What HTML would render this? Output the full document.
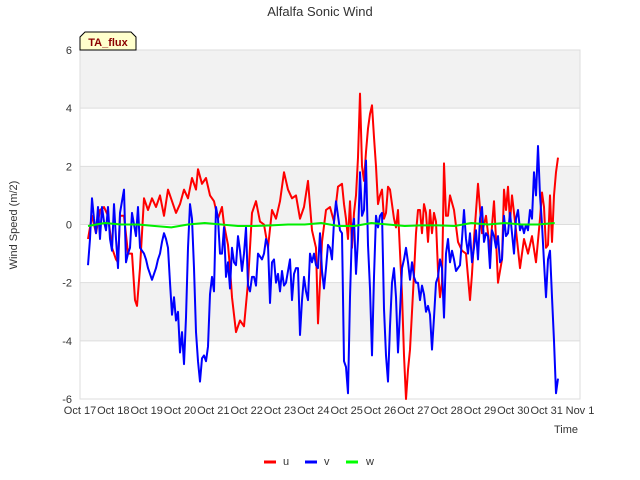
<!DOCTYPE html>
<html><head><meta charset="utf-8"><style>
body{margin:0;background:#fff;}
svg{display:block;font-family:"Liberation Sans","DejaVu Sans",sans-serif;}
</style></head><body>
<svg id="chart" width="640" height="480" viewBox="0 0 640 480">
<text x="320" y="16" text-anchor="middle" font-size="13" fill="#333">Alfalfa Sonic Wind</text>
<g id="bands"></g>
<g id="grid"></g>
<g id="series"></g>
<g id="yticks"></g>
<g id="xticks"></g>
<text transform="translate(17,225) rotate(-90)" text-anchor="middle" font-size="11" fill="#333">Wind Speed (m/2)</text>
<text x="566" y="433" text-anchor="middle" font-size="11" fill="#333">Time</text>
<g>
<path d="M80,50 L80,37 L85,32 L131,32 L136,37 L136,50 Z" fill="#ffffcc" stroke="#000" stroke-width="1"/>
<text x="108" y="46" text-anchor="middle" font-size="11" font-weight="bold" fill="#8b0000">TA_flux</text>
</g>
<g>
<g><line x1="264" y1="462" x2="276" y2="462" stroke="#f00" stroke-width="3"/><text x="283" y="465" font-size="11" fill="#333">u</text></g>
<g><line x1="305" y1="462" x2="317" y2="462" stroke="#00f" stroke-width="3"/><text x="324" y="465" font-size="11" fill="#333">v</text></g>
<g><line x1="346" y1="462" x2="358" y2="462" stroke="#0f0" stroke-width="3"/><text x="366" y="465" font-size="11" fill="#333">w</text></g>
</g>
</svg>
<script>
const xTickLabels=["Oct 17","Oct 18","Oct 19","Oct 20","Oct 21","Oct 22","Oct 23","Oct 24","Oct 25","Oct 26","Oct 27","Oct 28","Oct 29","Oct 30","Oct 31","Nov 1"];
const yTickValues=[-6,-4,-2,0,2,4,6];
const uDays=[.24,.36,.48,.6,.72,.84,.96,1.08,1.14,1.2,1.32,1.44,1.56,1.65,1.71,1.8,1.92,2.04,2.16,2.28,2.4,2.52,2.64,2.76,2.88,3.0,3.12,3.24,3.36,3.48,3.54,3.66,3.78,3.9,4.02,4.14,4.26,4.32,4.44,4.5,4.56,4.68,4.8,4.92,5.04,5.16,5.28,5.4,5.52,5.64,5.76,5.88,6.0,6.12,6.24,6.36,6.48,6.6,6.72,6.84,6.96,7.08,7.14,7.26,7.38,7.5,7.62,7.74,7.86,7.92,7.98,8.04,8.1,8.16,8.22,8.28,8.34,8.4,8.46,8.52,8.58,8.64,8.7,8.76,8.82,8.88,8.94,9.0,9.06,9.12,9.18,9.24,9.3,9.42,9.48,9.54,9.66,9.72,9.78,9.84,9.9,9.96,10.02,10.08,10.14,10.2,10.26,10.32,10.38,10.44,10.5,10.56,10.62,10.68,10.74,10.8,10.86,10.92,10.98,11.04,11.1,11.22,11.34,11.46,11.58,11.7,11.76,11.82,11.94,12.06,12.18,12.3,12.42,12.48,12.54,12.6,12.66,12.72,12.78,12.84,12.9,12.96,13.08,13.2,13.32,13.44,13.56,13.68,13.8,13.86,13.92,13.98,14.04,14.1,14.16,14.22,14.28,14.34];
const uValues=[-0.5,0.3,-0.3,0.5,0.6,0.3,-0.8,-1.2,-1.3,0.3,0.3,-1.0,-1.0,-2.6,-2.8,-1.5,0.9,0.5,0.9,0.6,1.0,0.3,1.2,0.8,0.4,0.7,1.2,0.9,1.6,1.2,1.9,1.4,1.6,1.0,0.8,0.2,0.6,0.0,-0.7,-1.5,-2.5,-3.7,-3.3,-3.5,-2.0,0.4,0.8,0.1,0.0,-0.8,0.5,0.2,0.8,1.8,1.2,0.9,1.0,0.2,0.6,1.5,-0.2,-0.8,-3.4,-0.6,0.5,0.6,0.1,1.3,1.4,0.7,0.2,-0.5,0.8,-0.8,0.4,1.0,2.3,4.5,2.0,1.5,2.5,3.3,3.8,4.1,3.0,2.0,0.7,1.0,1.2,0.2,0.4,1.3,1.2,0.2,-0.1,0.5,-2.4,-4.5,-6.0,-5.0,-4.3,-3.0,-1.7,-0.3,0.5,0.5,-0.3,0.7,0.4,-0.6,0.5,-0.3,0.4,0.1,-1.6,-2.5,-2.0,2.1,0.3,0.3,1.0,0.5,-0.6,-0.9,-1.0,-2.6,-1.7,-0.5,1.4,-0.3,0.3,-0.9,0.8,-0.5,-2.0,-1.6,-1.2,1.2,0.5,1.3,0.1,1.0,-0.2,-1.5,-0.5,-1.0,-0.4,-1.3,0.2,1.1,0.6,-0.8,-0.7,1.0,-0.6,1.0,1.8,2.3];
const vStartDay=0.24;
const vStepDay=0.06;
const vValues=[-1.4,-0.5,0.9,0.2,-0.3,0.6,-0.5,0.6,0.1,-0.2,0.6,-0.5,-0.9,0.7,-0.5,-1.5,0.4,0.8,1.2,-1.3,-1.0,-0.8,0.4,0.0,-0.4,0.6,-0.8,-0.9,-1.0,-1.2,-1.5,-1.7,-1.9,-1.7,-1.5,-1.2,-1.0,-0.6,-0.3,-0.5,-0.8,
-2.0,-3.1,-2.5,-3.3,-3.0,-4.4,-3.7,-4.8,-3.2,-0.8,0.7,0.2,-1.5,-3.7,-4.7,-5.4,-4.6,-4.5,-4.7,-4.2,-2.4,-1.8,-2.3,0.6,0.2,-1.0,-1.0,-0.1,-1.8,-1.3,-2.2,-0.8,-1.3,-1.4,-0.4,-0.9,-1.6,-1.0,-0.1,-2.1,-2.3,-1.8,-1.8,-2.1,-1.0,-1.1,-1.2,-1.0,-0.5,-0.7,-2.7,-1.3,-1.2,-2.0,-1.7,-2.3,-1.6,-2.1,-2.0,-1.6,-1.2,-2.6,-1.7,-1.5,-1.5,-3.8,-2.6,-1.8,-2.3,-2.6,-1.0,-1.3,-1.0,-1.4,-1.5,-0.3,-1.6,-2.2,-1.5,-0.7,-0.8,-1.2,0.1,0.8,0.3,-0.2,-0.3,-4.7,-4.9,-5.8,-2.5,-0.2,0.2,-1.7,-0.5,1.8,0.3,0.5,2.2,-0.7,-2.2,-4.5,-1.8,0.3,-0.1,0.3,0.4,-2.9,-4.5,-5.4,-3.5,-2.0,-1.5,-2.5,-4.4,-3.0,-1.5,-1.2,-0.8,-1.3,-1.9,-1.3,-1.8,-2.0,-2.0,-2.6,-2.1,-2.4,-3.0,-2.8,-3.1,-4.3,-3.2,-2.0,-1.8,-1.2,-1.5,-3.2,-1.0,-0.5,-1.3,-0.9,-1.2,-1.6,-1.5,-1.4,-0.5,0.5,-0.5,-1.0,-0.3,-1.3,-0.8,-0.2,-1.2,0.2,0.6,-0.6,-0.3,-0.4,-1.5,-0.2,-0.4,-0.8,-0.4,-1.3,-1.2,0.3,-0.4,-0.3,0.4,-0.3,-1.0,0.2,0.5,-0.2,0.0,-0.3,0.0,-0.2,0.5,0.2,1.8,1.0,2.7,1.0,0.0,-1.3,-2.5,-1.2,-0.9,-2.5,-4.0,-5.8,-5.3];
const wStartDay=0.24;
const wStepDay=0.5;
const wValues=[-0.05,0.05,0.0,0.0,-0.05,-0.1,0.0,0.05,0.0,-0.05,-0.05,-0.03,0.0,0.0,0.05,-0.05,-0.05,0.05,0.0,-0.05,-0.03,-0.03,-0.05,0.05,0.0,0.05,0.0,0.0,0.05];

const NS="http://www.w3.org/2000/svg";
const X0=80,X1=580,Y0=50,Y1=399,DAYS=15,YMIN=-6,YMAX=6;
function xs(d){return X0+(X1-X0)*d/DAYS;}
function ys(v){return Y1-(Y1-Y0)*(v-YMIN)/(YMAX-YMIN);}
function mk(tag,attrs,parent){const e=document.createElementNS(NS,tag);for(const k in attrs)e.setAttribute(k,attrs[k]);parent.appendChild(e);return e;}

const bands=document.getElementById('bands');
for(let i=0;i<yTickValues.length-1;i++){
  const lo=yTickValues[i],hi=yTickValues[i+1];
  const r=mk('rect',{x:X0,y:ys(hi),width:X1-X0,height:ys(lo)-ys(hi),fill:(i%2===1)?'#f2f2f2':'#ffffff'},bands);
  
  
}
const grid=document.getElementById('grid');
yTickValues.forEach(v=>{
  const l=mk('line',{x1:X0,x2:X1,y1:ys(v),y2:ys(v),stroke:'#dddddd','stroke-width':1},grid);
  
  
});
const frame=mk('rect',{x:X0,y:Y0,width:X1-X0,height:Y1-Y0,fill:'none',stroke:'#dddddd'},grid);



const yt=document.getElementById('yticks');
yTickValues.forEach(v=>{
  const t=mk('text',{x:72,y:ys(v)+4,'text-anchor':'end','font-size':11,fill:'#333'},yt);
  t.textContent=String(v);
  
  
});
const xt=document.getElementById('xticks');
xTickLabels.forEach((s,i)=>{
  const t=mk('text',{x:xs(i),y:414,'text-anchor':'middle','font-size':11,fill:'#333'},xt);
  t.textContent=s;
  
  
});

const sg=document.getElementById('series');
function line(days,vals,color,name){
  const pts=vals.map((v,i)=>xs(days[i]).toFixed(1)+','+ys(v).toFixed(1)).join(' ');
  const p=mk('polyline',{points:pts,fill:'none',stroke:color,'stroke-width':2,'stroke-linejoin':'round'},sg);
  
  
}
line(uDays,uValues,'#ff0000','series-u');
line(vValues.map((_,i)=>vStartDay+i*vStepDay),vValues,'#0000ff','series-v');
line(wValues.map((_,i)=>wStartDay+i*wStepDay),wValues,'#00ee00','series-w');
</script>
</body></html>
